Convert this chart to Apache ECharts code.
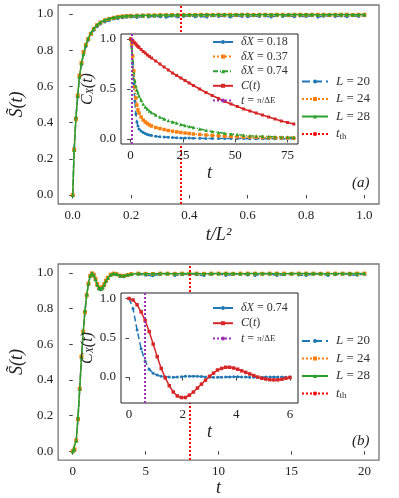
<!DOCTYPE html>
<html>
<head>
<meta charset="utf-8">
<script src="https://cdn.jsdelivr.net/npm/echarts@6/dist/echarts.min.js"></script>
<style>
  html, body { margin: 0; padding: 0; background: #fff; }
  #chart { width: 399px; height: 498px; }
</style>
</head>
<body>
<div id="chart"></div>
<script>
// panel (a): S(t) vs t/L^2
const tA = [0, 0.005, 0.011, 0.017, 0.023, 0.03, 0.037, 0.045, 0.053, 0.062, 0.072, 0.083, 0.095, 0.11, 0.125, 0.14, 0.155, 0.17, 0.185,
  0.2, 0.22, 0.24, 0.26, 0.28, 0.3, 0.32, 0.34, 0.36, 0.38, 0.4, 0.42, 0.44, 0.46, 0.48, 0.5, 0.52, 0.54, 0.56, 0.58,
  0.6, 0.62, 0.64, 0.66, 0.68, 0.7, 0.72, 0.74, 0.76, 0.78, 0.8, 0.82, 0.84, 0.86, 0.88, 0.9, 0.92, 0.94, 0.96, 0.98, 1.0]
const sA20 = [0, 0.26, 0.43, 0.54, 0.65, 0.72, 0.78, 0.82, 0.855, 0.885, 0.91, 0.93, 0.945, 0.956, 0.965, 0.972, 0.976, 0.98, 0.982,
  0.984, 0.981, 0.986, 0.983, 0.988, 0.985, 0.982, 0.989, 0.984, 0.987, 0.99, 0.985, 0.988, 0.983, 0.99, 0.986, 0.989, 0.984, 0.991, 0.987,
  0.985, 0.99, 0.986, 0.989, 0.984, 0.99, 0.987, 0.991, 0.985, 0.989, 0.986, 0.99, 0.984, 0.988, 0.991, 0.986, 0.989, 0.985, 0.99, 0.987, 0.99]
const sA24 = [0, 0.25, 0.42, 0.55, 0.66, 0.73, 0.79, 0.83, 0.862, 0.89, 0.918, 0.938, 0.953, 0.965, 0.973, 0.979, 0.984, 0.987, 0.989,
  0.99, 0.991, 0.992, 0.993, 0.993, 0.994, 0.994, 0.995, 0.994, 0.995, 0.995, 0.995, 0.996, 0.995, 0.995, 0.996, 0.995, 0.996, 0.995, 0.996,
  0.996, 0.995, 0.996, 0.996, 0.995, 0.996, 0.996, 0.995, 0.996, 0.996, 0.995, 0.996, 0.996, 0.996, 0.995, 0.996, 0.996, 0.996, 0.995, 0.996, 0.996]
const sA28 = [0, 0.25, 0.43, 0.55, 0.65, 0.73, 0.78, 0.83, 0.865, 0.895, 0.92, 0.94, 0.955, 0.967, 0.975, 0.981, 0.985, 0.988, 0.99,
  0.991, 0.992, 0.993, 0.994, 0.994, 0.995, 0.995, 0.995, 0.996, 0.996, 0.996, 0.996, 0.996, 0.997, 0.996, 0.997, 0.997, 0.996, 0.997, 0.997,
  0.997, 0.996, 0.997, 0.997, 0.997, 0.997, 0.996, 0.997, 0.997, 0.997, 0.997, 0.997, 0.996, 0.997, 0.997, 0.997, 0.997, 0.997, 0.996, 0.997, 0.997]
const tThA = 0.37

// inset (a): C_X(t)
const tIa = [0, 0.5, 1, 1.5, 2, 2.5, 3, 3.5, 4, 5, 6, 7, 8, 9, 10, 12, 14, 16, 18, 20,
  22, 24, 26, 28, 30, 33, 36, 39, 42, 45, 48, 51, 54, 57, 60, 63, 66, 69, 72, 75, 78]
const cA18 = [1, 0.93, 0.75, 0.55, 0.38, 0.25, 0.17, 0.13, 0.1, 0.08, 0.065, 0.055, 0.045, 0.04, 0.035, 0.028, 0.023, 0.02, 0.017, 0.015,
  0.013, 0.011, 0.01, 0.009, 0.008, 0.007, 0.006, 0.006, 0.005, 0.005, 0.004, 0.004, 0.004, 0.003, 0.003, 0.003, 0.003, 0.003, 0.002, 0.002, 0.002]
const cA37 = [1, 0.95, 0.83, 0.68, 0.52, 0.41, 0.34, 0.29, 0.26, 0.22, 0.19, 0.17, 0.155, 0.14, 0.13, 0.115, 0.105, 0.095, 0.085, 0.078,
  0.071, 0.065, 0.06, 0.055, 0.05, 0.045, 0.04, 0.035, 0.031, 0.028, 0.025, 0.022, 0.02, 0.018, 0.016, 0.014, 0.013, 0.012, 0.011, 0.01, 0.009]
const cA74 = [1, 0.92, 0.78, 0.66, 0.58, 0.53, 0.49, 0.46, 0.43, 0.39, 0.35, 0.32, 0.3, 0.28, 0.265, 0.24, 0.22, 0.2, 0.185, 0.17,
  0.16, 0.145, 0.135, 0.125, 0.115, 0.1, 0.088, 0.076, 0.066, 0.058, 0.05, 0.044, 0.038, 0.033, 0.03, 0.027, 0.025, 0.023, 0.021, 0.019, 0.018]
const cAC = [1, 0.995, 0.985, 0.97, 0.96, 0.95, 0.935, 0.925, 0.915, 0.895, 0.875, 0.86, 0.84, 0.825, 0.81, 0.78, 0.75, 0.72, 0.69, 0.66,
  0.635, 0.61, 0.585, 0.56, 0.535, 0.5, 0.465, 0.435, 0.405, 0.375, 0.35, 0.325, 0.3, 0.28, 0.26, 0.24, 0.22, 0.2, 0.18, 0.165, 0.15]
const tPi = 0.59

// panel (b): S(t) vs t
const tB = [0, 0.12, 0.24, 0.36, 0.48, 0.6, 0.72, 0.84, 0.96, 1.08, 1.2, 1.32, 1.44, 1.56, 1.68, 1.8, 1.92, 2.04, 2.16, 2.28,
  2.4, 2.6, 2.8, 3.0, 3.25, 3.5, 3.75, 4.0, 4.5, 5, 5.5, 6, 6.5, 7, 7.5, 8, 8.5, 9, 9.5, 10,
  10.5, 11, 11.5, 12, 12.5, 13, 13.5, 14, 14.5, 15, 15.5, 16, 16.5, 17, 17.5, 18, 18.5, 19, 19.5, 20]
const sB20 = [0, 0.01, 0.06, 0.18, 0.35, 0.53, 0.67, 0.78, 0.875, 0.94, 0.982, 0.996, 0.988, 0.962, 0.93, 0.91, 0.905, 0.912, 0.93, 0.95,
  0.968, 0.985, 0.993, 0.99, 0.98, 0.978, 0.985, 0.99, 0.993, 0.987, 0.984, 0.992, 0.995, 0.986, 0.99, 0.996, 0.989, 0.985, 0.993, 0.995,
  0.986, 0.991, 0.996, 0.988, 0.986, 0.994, 0.995, 0.985, 0.99, 0.996, 0.988, 0.986, 0.994, 0.995, 0.985, 0.99, 0.996, 0.988, 0.987, 0.995]
const sB24 = [0, 0.01, 0.06, 0.18, 0.35, 0.53, 0.67, 0.78, 0.875, 0.94, 0.983, 0.997, 0.99, 0.967, 0.937, 0.917, 0.912, 0.92, 0.937, 0.956,
  0.973, 0.99, 0.996, 0.993, 0.985, 0.983, 0.988, 0.993, 0.996, 0.995, 0.994, 0.996, 0.996, 0.995, 0.996, 0.996, 0.996, 0.995, 0.996, 0.996,
  0.996, 0.995, 0.996, 0.996, 0.996, 0.995, 0.996, 0.996, 0.996, 0.995, 0.996, 0.996, 0.996, 0.995, 0.996, 0.996, 0.996, 0.995, 0.996, 0.996]
const sB28 = [0, 0.01, 0.06, 0.19, 0.35, 0.53, 0.67, 0.79, 0.88, 0.94, 0.985, 0.998, 0.99, 0.965, 0.935, 0.915, 0.91, 0.918, 0.935, 0.955,
  0.972, 0.99, 0.997, 0.994, 0.986, 0.984, 0.989, 0.994, 0.997, 0.996, 0.995, 0.997, 0.997, 0.996, 0.997, 0.997, 0.997, 0.996, 0.997, 0.997,
  0.997, 0.997, 0.996, 0.997, 0.997, 0.997, 0.997, 0.997, 0.996, 0.997, 0.997, 0.997, 0.997, 0.997, 0.996, 0.997, 0.997, 0.997, 0.997, 0.997]
const tThB = 8

// inset (b)
const tIb = [0, 0.15, 0.3, 0.45, 0.6, 0.75, 0.9, 1.05, 1.2, 1.35, 1.5, 1.65, 1.8, 1.95, 2.1, 2.25, 2.4, 2.55, 2.7, 2.85,
  3.0, 3.15, 3.3, 3.45, 3.6, 3.75, 3.9, 4.05, 4.2, 4.35, 4.5, 4.65, 4.8, 4.95, 5.1, 5.25, 5.4, 5.55, 5.7, 5.85, 6.0]
const cB74 = [1, 0.87, 0.6, 0.36, 0.2, 0.1, 0.05, 0.025, 0.01, 0.003, 0, -0.003, 0, 0.005, 0.01, 0.012, 0.012, 0.01, 0.006, 0.002,
  -0.001, -0.003, -0.003, -0.002, 0, 0.002, 0.003, 0.003, 0.002, 0, -0.001, -0.002, -0.002, -0.001, 0, 0.001, 0.002, 0.001, 0, -0.001, 0]
const cBC = [1, 0.98, 0.92, 0.83, 0.72, 0.58, 0.42, 0.26, 0.11, -0.01, -0.11, -0.19, -0.24, -0.26, -0.26, -0.23, -0.19, -0.14, -0.09, -0.04,
  0.01, 0.05, 0.09, 0.11, 0.125, 0.125, 0.115, 0.1, 0.08, 0.06, 0.04, 0.02, 0, -0.015, -0.025, -0.033, -0.036, -0.035, -0.028, -0.015, -0.005]

const ticksA = [0, 0.2, 0.4, 0.6, 0.8, 1.0]
const ticksBx = [0, 5, 10, 15, 20]
const ticksS = [0, 0.2, 0.4, 0.6, 0.8, 1.0]
const ticksIax = [0, 25, 50, 75]
const ticksIbx = [0, 2, 4, 6]
const ticksIy = [0, 0.5, 1.0]

const fam = "'Liberation Serif', 'DejaVu Serif', serif"
const blue = '#1f77b4', orange = '#ff7f0e', green = '#2ca02c', red = '#d62728', purple = '#9b30b0'

const pairs = (xs, ys) => xs.map((x, i) => [x, ys[i]])

function axis(grid, min, max, ticks, fmt, extra) {
  return Object.assign({
    type: 'value', gridIndex: grid, min: min, max: max,
    axisLine: { show: false },
    splitLine: { show: false },
    axisTick: { show: true, length: 3.5, customValues: ticks, lineStyle: { color: '#444', width: 1 } },
    axisLabel: { customValues: ticks, formatter: fmt, fontFamily: fam, fontSize: 13, color: '#222', margin: 5 },
    nameTextStyle: { fontFamily: fam, fontSize: 18, fontStyle: 'italic', color: '#222' },
  }, extra || {})
}
const f1 = (v) => v.toFixed(1)
const f0 = (v) => String(Math.round(v))

function line(name, xi, xs, ys, color, type, sym, size, z) {
  return {
    name: name, type: 'line', xAxisIndex: xi, yAxisIndex: xi,
    data: pairs(xs, ys), symbol: sym, symbolSize: size, showSymbol: true, showAllSymbol: true,
    lineStyle: { color: color, type: type, width: 1.5 },
    itemStyle: { color: color }, z: z, animation: false,
  }
}
function vline(name, xi, x, color, z) {
  return {
    name: name, type: 'line', xAxisIndex: xi, yAxisIndex: xi, data: [], symbol: 'none', z: z,
    lineStyle: { color: color, type: 'dotted', width: 2 }, itemStyle: { color: color },
    markLine: {
      silent: true, symbol: 'none', animation: false, label: { show: false }, z: z,
      lineStyle: { color: color, type: 'dotted', width: 2 },
      data: [{ xAxis: x }],
    },
  }
}

const legendNames = {
  'L = 20': '{i|L} = 20', 'L = 24': '{i|L} = 24', 'L = 28': '{i|L} = 28',
  'tth': '{i|t}{sub|th}',
  'δX = 0.18': '{i|δX} = 0.18', 'δX = 0.37': '{i|δX} = 0.37', 'δX = 0.74': '{i|δX} = 0.74',
  'δX = 0.74 ': '{i|δX} = 0.74',
  'C(t)': '{i|C}({i|t})', 'tpi': '{i|t} = {f|π/ΔE}',
}
function legend(names, left, top, size, w, gap) {
  return {
    data: names, orient: 'vertical', left: left, top: top, padding: 0, z: 30,
    itemWidth: w, itemHeight: 5, itemGap: gap,
    formatter: (n) => legendNames[n],
    textStyle: {
      fontFamily: fam, fontSize: size, color: '#333', lineHeight: size, padding: [0, 0, 0, 3],
      rich: {
        i: { fontFamily: fam, fontSize: size, fontStyle: 'italic', color: '#333' },
        sub: { fontFamily: fam, fontSize: size - 4, color: '#333', padding: [5, 0, 0, 0] },
        f: { fontFamily: fam, fontSize: size - 3, color: '#333' },
      },
    },
  }
}

const chart = echarts.init(document.getElementById('chart'), null, { renderer: 'canvas' })
chart.setOption({
  animation: false,
  backgroundColor: '#fff',
  grid: [
    { left: 55, top: 5, width: 324, height: 199, show: true, borderColor: '#777', borderWidth: 1.3, backgroundColor: 'transparent' },
    { left: 121, top: 34, width: 177, height: 110, show: true, borderColor: '#222', borderWidth: 1, backgroundColor: '#fff', z: 10 },
    { left: 55, top: 264, width: 324, height: 199, show: true, borderColor: '#777', borderWidth: 1.3, backgroundColor: 'transparent' },
    { left: 121, top: 293, width: 177, height: 110, show: true, borderColor: '#222', borderWidth: 1, backgroundColor: '#fff', z: 10 },
  ],
  xAxis: [
    axis(0, -0.05, 1.05, ticksA, f1, { name: 't/L²', nameLocation: 'middle', nameGap: 22 }),
    axis(1, -4.6, 80, ticksIax, f0, { z: 11, name: 't', nameLocation: 'middle', nameGap: 20 }),
    axis(2, -1, 21, ticksBx, f0, { name: 't', nameLocation: 'middle', nameGap: 18 }),
    axis(3, -0.3, 6.3, ticksIbx, f0, { z: 11, name: 't', nameLocation: 'middle', nameGap: 20 }),
  ],
  yAxis: [
    axis(0, -0.05, 1.05, ticksS, f1, { name: 'S̃(t)', nameLocation: 'middle', nameGap: 27 }),
    axis(1, -0.05, 1.05, ticksIy, f1, { z: 11, name: 'C{sub|X}(t)', nameLocation: 'middle', nameGap: 25,
      nameTextStyle: { fontFamily: fam, fontSize: 16, fontStyle: 'italic', color: '#222',
        rich: { sub: { fontFamily: fam, fontSize: 10, fontStyle: 'italic', color: '#222', padding: [6, 0, 0, 0] } } } }),
    axis(2, -0.05, 1.05, ticksS, f1, { name: 'S̃(t)', nameLocation: 'middle', nameGap: 27 }),
    axis(3, -0.33, 1.07, ticksIy, f1, { z: 11, name: 'C{sub|X}(t)', nameLocation: 'middle', nameGap: 25,
      nameTextStyle: { fontFamily: fam, fontSize: 16, fontStyle: 'italic', color: '#222',
        rich: { sub: { fontFamily: fam, fontSize: 10, fontStyle: 'italic', color: '#222', padding: [6, 0, 0, 0] } } } }),
  ],
  legend: [
    legend(['L = 20', 'L = 24', 'L = 28', 'tth'], 301, 75, 13, 26, 4.5),
    legend(['δX = 0.18', 'δX = 0.37', 'δX = 0.74', 'C(t)', 'tpi'], 212, 36, 12, 20, 2.6),
    legend(['L = 20', 'L = 24', 'L = 28', 'tth'], 301, 334.5, 13, 26, 4.5),
    legend(['δX = 0.74 ', 'C(t)', 'tpi'], 212, 302, 12, 20, 3.2),
  ],
  graphic: [
    { type: 'text', left: 352, top: 176, style: { text: '(a)', font: 'italic 15px ' + fam, fill: '#222' } },
    { type: 'text', left: 352, top: 434, style: { text: '(b)', font: 'italic 15px ' + fam, fill: '#222' } },
  ],
  series: [
    line('L = 20', 0, tA, sA20, blue, 'dashed', 'circle', 3, 2),
    line('L = 24', 0, tA, sA24, orange, 'dotted', 'rect', 4, 3),
    line('L = 28', 0, tA, sA28, green, 'solid', 'triangle', 4, 4),
    vline('tth', 0, tThA, '#ff0000', 5),

    line('δX = 0.18', 1, tIa, cA18, blue, 'dashed', 'circle', 3, 12),
    line('δX = 0.37', 1, tIa, cA37, orange, 'dotted', 'rect', 3.5, 12),
    line('δX = 0.74', 1, tIa, cA74, green, [5, 2, 1, 2], 'triangle', 3.5, 12),
    line('C(t)', 1, tIa, cAC, red, 'solid', 'rect', 3, 13),
    vline('tpi', 1, tPi, purple, 14),

    line('L = 20', 2, tB, sB20, blue, 'dashed', 'circle', 3, 2),
    line('L = 24', 2, tB, sB24, orange, 'dotted', 'rect', 4, 3),
    line('L = 28', 2, tB, sB28, green, 'solid', 'triangle', 4, 4),
    vline('tth', 2, tThB, '#ff0000', 5),

    line('δX = 0.74 ', 3, tIb, cB74, blue, 'dashed', 'circle', 3, 12),
    line('C(t)', 3, tIb, cBC, red, 'solid', 'rect', 3.5, 13),
    vline('tpi', 3, tPi, purple, 14),
  ],
})
</script>
</body>
</html>
